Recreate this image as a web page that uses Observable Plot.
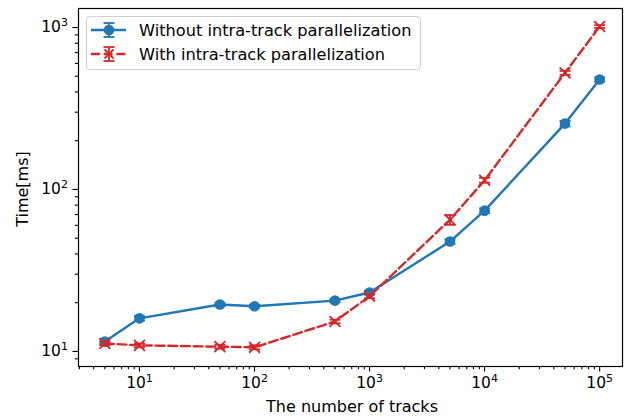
<!DOCTYPE html>
<html><head><meta charset="utf-8">
<script src="https://cdn.jsdelivr.net/npm/d3@7"></script>
<script src="https://cdn.jsdelivr.net/npm/@observablehq/plot@0.6"></script>
<style>
body{margin:0;background:#fff;font-family:"DejaVu Sans",sans-serif;}
#wrap{position:relative;width:626px;height:417px;}
.lbl{position:absolute;font-size:16px;color:#000;white-space:nowrap;line-height:1;}
#legend{position:absolute;left:86px;top:16px;width:335px;height:54px;border:1px solid #cfcfcf;border-radius:4px;background:rgba(255,255,255,0.85);box-sizing:border-box;}
#legend .g{position:absolute;left:4px;}
#legend .t{position:absolute;left:52px;font-size:16.2px;line-height:1;white-space:nowrap;color:#000;}
</style>
</head><body>
<div id="wrap"></div>
<script>
const tracks = [5, 10, 50, 100, 500, 1000, 5000, 10000, 50000, 100000];
const timeWithout = [11.5, 16.0, 19.5, 19.0, 20.6, 23.1, 47.7, 74, 255, 477];
const errWithout = [0.4, 0.5, 0.5, 0.4, 0.5, 0.6, 1.5, 2.5, 10, 15];
const timeWith = [11.2, 10.9, 10.7, 10.6, 15.3, 21.9, 65, 114, 525, 1014];
const errWith = [0.3, 0.3, 0.3, 0.3, 0.4, 0.6, 4.5, 4, 15, 20];
const seriesNames = ["Without intra-track parallelization", "With intra-track parallelization"];
const xMajor = [1e1, 1e2, 1e3, 1e4, 1e5];
const yMajor = [1e1, 1e2, 1e3];
const xLabel = "The number of tracks";
const yLabel = "Time[ms]";

const blue = "#1f77b4", red = "#d62728";
const dash = "8.9,3.8";
const fmt = v => "10^" + Math.round(Math.log10(v));

const dataWithout = tracks.map((x, i) => ({x, y: timeWithout[i], e: errWithout[i]}));
const dataWith = tracks.map((x, i) => ({x, y: timeWith[i], e: errWith[i]}));

const xDomain = [2.95, 1.58e5], yDomain = [8.07, 1310];
const minor = (lo, hi) => {
  const out = [];
  for (let p = Math.floor(Math.log10(lo)); p <= Math.ceil(Math.log10(hi)); p++)
    for (let m = 2; m <= 9; m++) { const v = m * 10 ** p; if (v >= lo && v <= hi) out.push(v); }
  return out;
};
const capSymbol = {draw(ctx, size) { const r = Math.sqrt(size / Math.PI); ctx.moveTo(-r, 0); ctx.lineTo(r, 0); }};

function series(data, color, dashed, marker) {
  return [
    Plot.line(data, {x: "x", y: "y", stroke: color, strokeWidth: 2.4, strokeDasharray: dashed ? dash : null}),
    Plot.ruleX(data, {x: "x", y1: d => d.y - d.e, y2: d => d.y + d.e, stroke: color, strokeWidth: 1.8}),
    Plot.dot(data, {x: "x", y: d => d.y - d.e, symbol: capSymbol, r: 5.5, stroke: color, strokeWidth: 1.8}),
    Plot.dot(data, {x: "x", y: d => d.y + d.e, symbol: capSymbol, r: 5.5, stroke: color, strokeWidth: 1.8}),
    marker === "circle"
      ? Plot.dot(data, {x: "x", y: "y", r: 5.3, fill: color, stroke: null})
      : Plot.dot(data, {x: "x", y: "y", symbol: "times", r: 5, stroke: color, strokeWidth: 1.8})
  ];
}

const chart = Plot.plot({
  width: 626, height: 417,
  marginLeft: 78, marginRight: 4, marginTop: 8, marginBottom: 51,
  style: {fontSize: "15.5px", fontFamily: "DejaVu Sans, sans-serif", color: "#000", background: "#fff", overflow: "visible"},
  x: {type: "log", domain: xDomain, label: null},
  y: {type: "log", domain: yDomain, label: null},
  marks: [
    Plot.axisX(minor(...xDomain), {tickSize: 3.2, tickFormat: () => "", strokeWidth: 1.1}),
    Plot.axisX(xMajor, {tickSize: 5.6, tickPadding: 5, tickFormat: fmt, strokeWidth: 1.1}),
    Plot.axisY(minor(...yDomain), {tickSize: 3.2, tickFormat: () => "", strokeWidth: 1.1}),
    Plot.axisY(yMajor, {tickSize: 5.6, tickPadding: 5, tickFormat: fmt, strokeWidth: 1.1}),
    ...series(dataWithout, blue, false, "circle"),
    ...series(dataWith, red, true, "times"),
    Plot.frame({stroke: "#000", strokeWidth: 1.2})
  ]
});
// render "10^k" tick labels with a real superscript
chart.querySelectorAll("text").forEach(t => {
  const m = /^10\^(\d+)$/.exec(t.textContent);
  if (!m) return;
  t.textContent = "10";
  const s = document.createElementNS("http://www.w3.org/2000/svg", "tspan");
  s.setAttribute("font-size", "11px");
  s.setAttribute("dy", "-0.55em");
  s.textContent = m[1];
  t.appendChild(s);
});
const wrap = document.getElementById("wrap");
wrap.appendChild(chart);

const xl = document.createElement("div");
xl.className = "lbl"; xl.textContent = xLabel;
xl.style.left = "352px"; xl.style.top = "407px"; xl.style.transform = "translate(-50%,-50%)";
wrap.appendChild(xl);
const yl = document.createElement("div");
yl.className = "lbl"; yl.textContent = yLabel;
yl.style.left = "23px"; yl.style.top = "189px"; yl.style.transform = "translate(-50%,-50%) rotate(-90deg)";
wrap.appendChild(yl);

const glyph = (color, dashed, marker) => {
  const m = marker === "circle"
    ? `<circle cx="18" cy="10" r="5.3" fill="${color}"/>`
    : `<path d="M13.5 5.5 L22.5 14.5 M22.5 5.5 L13.5 14.5" stroke="${color}" stroke-width="1.8"/>`;
  return `<svg width="36" height="20">
    <line x1="0" y1="10" x2="35" y2="10" stroke="${color}" stroke-width="2.4" ${dashed ? `stroke-dasharray="${dash}"` : ""}/>
    <line x1="18" y1="3" x2="18" y2="17" stroke="${color}" stroke-width="1.8"/>
    <line x1="12.5" y1="3" x2="23.5" y2="3" stroke="${color}" stroke-width="1.8"/>
    <line x1="12.5" y1="17" x2="23.5" y2="17" stroke="${color}" stroke-width="1.8"/>
    ${m}</svg>`;
};
const legend = document.createElement("div");
legend.id = "legend";
legend.innerHTML =
  `<div class="g" style="top:3px">${glyph(blue, false, "circle")}</div><div class="t" style="top:6px">${seriesNames[0]}</div>` +
  `<div class="g" style="top:27px">${glyph(red, true, "times")}</div><div class="t" style="top:30px">${seriesNames[1]}</div>`;
wrap.appendChild(legend);
</script>
</body></html>
